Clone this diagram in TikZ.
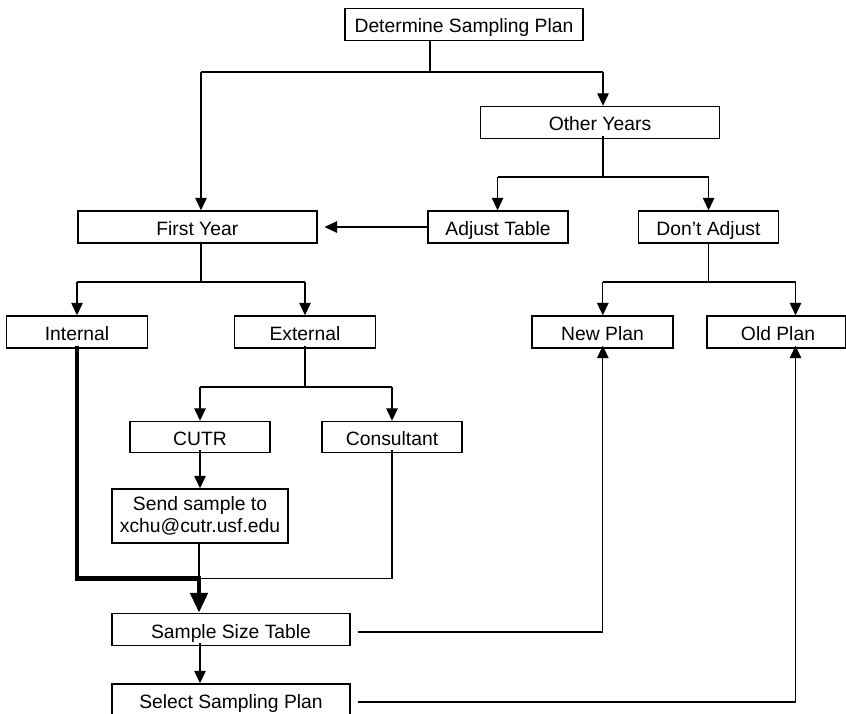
\documentclass[tikz,border=0pt]{standalone}
\usepackage{fontspec}
\setmainfont{Liberation Sans}
\usetikzlibrary{arrows.meta}
\begin{document}
\begin{tikzpicture}[x=1pt,y=-1pt,
  every node/.style={font=\fontsize{19.3pt}{22.4pt}\selectfont},
  box/.style={draw, line width=1.4pt, inner sep=0pt, minimum height=32pt, text height=17pt, text depth=0pt},
  twoline/.style={draw, line width=1.4pt, inner sep=0pt, align=center},
  ln/.style={line width=1.3pt},
  arr/.style={line width=1.3pt, -{Triangle[length=12.5pt,width=11.5pt]}},
  fat/.style={line width=4.8pt, line join=miter, -{Triangle[length=20pt,width=17pt]}}]
\useasboundingbox (0,0) rectangle (846,714);

% nodes
\node[box, minimum width=238pt] (dsp) at (464,24.5) {Determine Sampling Plan};
\node[box, minimum width=239pt] (oy) at (600,122.5) {Other Years};
\node[box, minimum width=239pt] (fy) at (197.3,227) {First Year};
\node[box, minimum width=140pt] (at) at (498,227) {Adjust Table};
\node[box, minimum width=140pt] (da) at (708.5,227) {Don't Adjust};
\node[box, minimum width=141pt] (in) at (77,332) {Internal};
\node[box, minimum width=141pt] (ex) at (305,332) {External};
\node[box, minimum width=141pt] (np) at (602.5,332) {New Plan};
\node[box, minimum width=138.5pt] (op) at (776.25,332) {\hspace*{3.5pt}Old Plan};
\node[box, minimum width=140pt, minimum height=31pt] (cutr) at (200,437) {CUTR};
\node[box, minimum width=140pt, minimum height=31pt] (con) at (392,437) {Consultant};
\node[twoline, minimum width=176pt, minimum height=54pt] (send) at (200,516) {Send sample to\\xchu@cutr.usf.edu};
\node[box, minimum width=238pt] (sst) at (231,629.5) {Sample Size Table};
\node[box, minimum width=238pt] (ssp) at (231,700) {Select Sampling Plan};

% junction coordinates
\coordinate (j0) at (430,72);
\coordinate (j0L) at (201,72);
\coordinate (j0R) at (603,72);
\coordinate (j1) at (603,177);
\coordinate (j1L) at (497.6,177);
\coordinate (j1R) at (708.6,177);
\coordinate (j2) at (201,282);
\coordinate (j2L) at (77,282);
\coordinate (j2R) at (305,282);
\coordinate (j3) at (708.6,282);
\coordinate (j3L) at (602.8,282);
\coordinate (j3R) at (795.5,282);
\coordinate (j4) at (305,387);
\coordinate (j4L) at (200,387);
\coordinate (j4R) at (392,387);
\coordinate (j5) at (199,578.5);
\coordinate (j5R) at (392,578.5);
\coordinate (j6) at (77,578.5);
\coordinate (j7) at (200,0);
\coordinate (r1) at (602.8,632);
\coordinate (r2) at (795.5,702);

% Determine -> First Year / Other Years
\draw[ln] (dsp.south -| j0) -- (j0);
\draw[ln] (j0L) -- (j0R);
\draw[arr] (j0L) -- (j0L |- fy.north);
\draw[arr] (j0R) -- (j0R |- oy.north);

% Other Years -> Adjust / Don't Adjust
\draw[ln] ([yshift=3pt]oy.south -| j1) -- (j1);
\draw[ln] (j1L) -- (j1R);
\draw[arr] (j1L) -- (j1L |- at.north);
\draw[arr] (j1R) -- (j1R |- da.north);

% Adjust Table -> First Year
\draw[arr] (at.west) -- ([xshift=7pt]fy.east);

% First Year -> Internal / External
\draw[ln] ([yshift=2pt]fy.south -| j2) -- (j2);
\draw[ln] (j2L) -- (j2R);
\draw[arr] (j2L) -- (in.north);
\draw[arr] (j2R) -- (ex.north);

% Don't Adjust -> New Plan / Old Plan
\draw[ln] ([yshift=2pt]da.south -| j3) -- (j3);
\draw[ln] (j3L) -- (j3R);
\draw[arr] (j3L) -- (j3L |- np.north);
\draw[arr] (j3R) -- (j3R |- op.north);

% External -> CUTR / Consultant
\draw[ln] ([yshift=3pt]ex.south) -- (j4);
\draw[ln] (j4L) -- (j4R);
\draw[arr] (j4L) -- (cutr.north);
\draw[arr] (j4R) -- (con.north);

% CUTR -> Send
\draw[arr] ([yshift=3pt]cutr.south) -- (send.north);

% Send / Consultant -> join
\draw[ln] (send.south -| j5) -- (j5);
\draw[ln] ([yshift=3pt]con.south) -- (j5R) -- (j5);

% Internal thick path -> Sample Size Table
\draw[fat] ([yshift=3pt]in.south) -- (j6) -- (j5) -- (j5 |- sst.north);

% Sample Size Table -> New Plan
\draw[arr] ([xshift=7pt]sst.east |- r1) -- (r1) -- ([yshift=3pt]np.south -| r1);

% Sample Size Table -> Select Sampling Plan
\draw[arr] ([yshift=3pt]sst.south -| j7) -- (j7 |- ssp.north);

% Select Sampling Plan -> Old Plan
\draw[arr] ([xshift=7pt]ssp.east |- r2) -- (r2) -- ([yshift=3pt]op.south -| r2);
\end{tikzpicture}
\end{document}
